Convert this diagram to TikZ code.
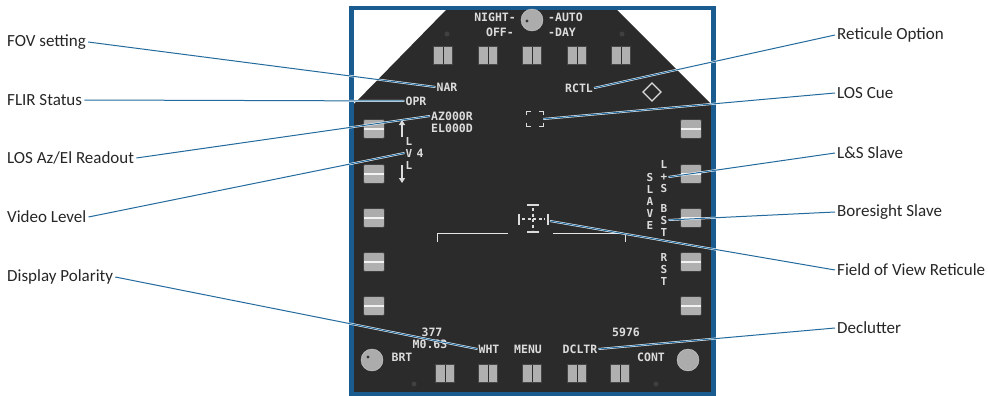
\documentclass[tikz,border=0pt]{standalone}
\usepackage{fontspec}
\setmainfont{Carlito}
\newfontfamily\mfdfont{DejaVu Sans Mono}
\usetikzlibrary{arrows.meta}

\definecolor{frameblue}{HTML}{1A5C8F}
\definecolor{leadblue}{HTML}{236B9E}
\definecolor{panel}{HTML}{2B2B2B}
\definecolor{glyph}{HTML}{DCDCDC}
\definecolor{keygray}{HTML}{B0B0B0}

\tikzset{
  callout/.style={anchor=west, inner sep=2pt, text=black!85, font=\fontsize{17}{19}\selectfont},
  mfd/.style={inner sep=1pt, text=glyph, font=\mfdfont\bfseries\fontsize{11.5}{12}\selectfont},
  mfdcol/.style={mfd, align=center, font=\mfdfont\bfseries\fontsize{11}{12}\selectfont},
  leader/.style={draw=white, line width=0.5pt, double=leadblue, double distance=1pt},
  glyphline/.style={draw=glyph, line width=1.3pt},
  topkey/.style={rectangle, minimum width=19pt, minimum height=18pt, fill=keygray,
    draw=gray!55!black, line width=0.6pt,
    path picture={\draw[gray!35!black, line width=0.8pt] (path picture bounding box.north) -- (path picture bounding box.south);}},
  sidekey/.style={rectangle, rounded corners=2pt, minimum width=21pt, minimum height=19pt,
    fill=keygray, draw=gray!50!black, line width=0.6pt,
    path picture={\fill[gray!65] (path picture bounding box.north west) rectangle (path picture bounding box.east);
      \draw[gray!10, line width=1.5pt] (path picture bounding box.west) -- (path picture bounding box.east);}},
  knob/.style={fill=gray!65, draw=gray!40}
}

\begin{document}
\begin{tikzpicture}[x=1pt,y=-1pt]
\useasboundingbox (0,0) rectangle (988,396);
% bezel
\fill[white] (352,9) rectangle (714,394);
\fill[panel] (354,104) -- (446,10) -- (617,10) -- (711,104) -- (711,392) -- (354,392) -- cycle;
\draw[frameblue, line width=4.5pt] (351.5,8) rectangle (713.5,394);
\fill[black!75] (447,34) circle (2.5);
\fill[black!75] (622,34) circle (2.5);
\fill[black!75] (414,384) circle (2.5);
\fill[black!75] (656,384) circle (2.5);
\draw[knob] (532,20) circle (11);
\fill[black!80] (527,21) circle (1.6);
\draw[knob] (372,360) circle (11);
\fill[black!80] (368,357) circle (1.6);
\draw[knob] (688,360) circle (11);
% pushbuttons
\node[topkey] (t1) at (443,55) {};
\node[topkey] (t2) at (488,55) {};
\node[topkey] (t3) at (532,55) {};
\node[topkey] (t4) at (577,55) {};
\node[topkey] (t5) at (621,55) {};
\node[topkey] (b1) at (445,373) {};
\node[topkey] (b2) at (488,373) {};
\node[topkey] (b3) at (532,373) {};
\node[topkey] (b4) at (577,373) {};
\node[topkey] (b5) at (620,373) {};
\node[sidekey] (l1) at (374,129) {};
\node[sidekey] (l2) at (374,174) {};
\node[sidekey] (l3) at (374,218) {};
\node[sidekey] (l4) at (374,262) {};
\node[sidekey] (l5) at (374,306) {};
\node[sidekey] (r1) at (691,129) {};
\node[sidekey] (r2) at (691,174) {};
\node[sidekey] (r3) at (691,218) {};
\node[sidekey] (r4) at (691,262) {};
\node[sidekey] (r5) at (691,306) {};
% display legends
\node[mfd, anchor=east] (night) at (517,17) {NIGHT-};
\node[mfd, anchor=west] (auto) at (547,17) {-AUTO};
\node[mfd, anchor=east] (off) at (515,32) {OFF-};
\node[mfd, anchor=west] (day) at (547,32) {-DAY};
\node[mfd] (nar) at (447,87) {NAR};
\node[mfd] (opr) at (416,101) {OPR};
\node[mfd] (rctl) at (579,88) {RCTL};
\node[mfd] (az) at (452,116) {AZ000R};
\node[mfd] (el) at (452,128) {EL000D};
\node[mfdcol] (lvl) at (409,153) {L\\V\\L};
\node[mfd] (four) at (420,153) {4};
\node[mfdcol] (lps) at (664,177) {L\\+\\S};
\node[mfdcol] (bst) at (664,220) {B\\S\\T};
\node[mfdcol] (rst) at (664,269) {R\\S\\T};
\node[mfdcol] (slave) at (650,201) {S\\L\\A\\V\\E};
\node[mfd] (spd) at (432,332) {377};
\node[mfd] (mach) at (430,344) {M0.63};
\node[mfd] (alt) at (626,332) {5976};
\node[mfd] (wht) at (489,349) {WHT};
\node[mfd] (menu) at (528,349) {MENU};
\node[mfd] (dcltr) at (580,349) {DCLTR};
\node[mfd] (brt) at (402,357) {BRT};
\node[mfd] (cont) at (651,357) {CONT};
% symbols
\draw[glyphline, -{Triangle[width=6pt,length=5pt]}] (402,137) -- (402,120);
\draw[glyphline, -{Triangle[width=6pt,length=5pt]}] (402,165) -- (402,183);
\draw[glyphline] (652,83) -- (661,92) -- (652,101) -- (643,92) -- cycle;
\node[minimum width=16pt, minimum height=15pt, inner sep=0pt] (cue) at (535,119) {};
\draw[glyphline] ([yshift=-4pt]cue.north west) -- (cue.north west) -- ([xshift=4pt]cue.north west);
\draw[glyphline] ([yshift=-4pt]cue.north east) -- (cue.north east) -- ([xshift=-4pt]cue.north east);
\draw[glyphline] ([yshift=4pt]cue.south west) -- (cue.south west) -- ([xshift=4pt]cue.south west);
\draw[glyphline] ([yshift=4pt]cue.south east) -- (cue.south east) -- ([xshift=-4pt]cue.south east);
\draw[glyphline] (519,214) -- (519,225);
\draw[glyphline] (548,214) -- (548,225);
\draw[glyphline] (527,205) -- (539,205);
\draw[glyphline] (527,232) -- (539,232);
\draw[glyphline, dash pattern=on 3pt off 2.5pt] (522,219) -- (545,219);
\draw[glyphline, dash pattern=on 3pt off 2.5pt] (533,208) -- (533,230);
\coordinate (retic) at (550,221);
\draw[draw=glyph!75, line width=1pt] (437,242) -- (437,233) -- (508,233);
\draw[draw=glyph!75, line width=1pt] (553,233) -- (625,233) -- (625,242);
% callouts
\node[callout] (fov) at (5,42) {FOV setting};
\node[callout] (flir) at (5,100) {FLIR Status};
\node[callout] (losaz) at (5,158) {LOS Az/El Readout};
\node[callout] (vid) at (5,217) {Video Level};
\node[callout] (pol) at (5,277) {Display Polarity};
\node[callout] (retopt) at (835,35) {Reticule Option};
\node[callout] (loscue) at (835,93) {LOS Cue};
\node[callout] (lsslave) at (835,153) {L\&S Slave};
\node[callout] (bsslave) at (835,212) {Boresight Slave};
\node[callout] (fovret) at (835,270) {Field of View Reticule};
\node[callout] (dclt) at (835,328) {Declutter};
\draw[leader] (fov.east) -- (nar.west);
\draw[leader] (flir.east) -- (opr.west);
\draw[leader] (losaz.east) -- (az.west);
\draw[leader] (vid.east) -- (lvl.west);
\draw[leader] (pol.east) -- (wht.west);
\draw[leader] (retopt.west) -- (rctl.east);
\draw[leader] (loscue.west) -- (cue.east);
\draw[leader] (lsslave.west) -- (lps.east);
\draw[leader] (bsslave.west) -- (bst.east);
\draw[leader] (fovret.west) -- (retic);
\draw[leader] (dclt.west) -- (dcltr.east);
\end{tikzpicture}
\end{document}
